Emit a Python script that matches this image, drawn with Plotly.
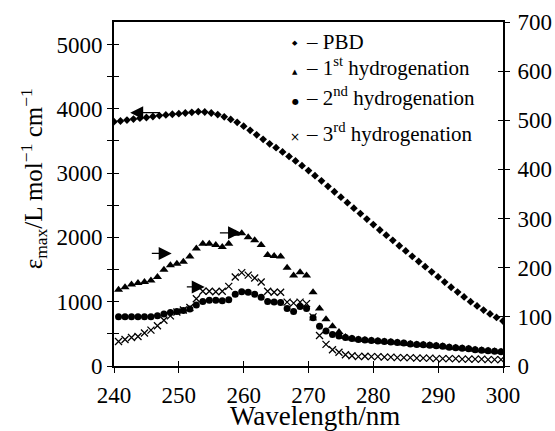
import numpy as np
import plotly.graph_objects as go

# ---- data ----
wl_pbd = list(range(240, 301))  # nm
pbd = [3800, 3810, 3825, 3840, 3855, 3865, 3880, 3895, 3905, 3915,
       3925, 3935, 3945, 3955, 3950, 3935, 3910, 3875, 3835, 3790,
       3730, 3665, 3595, 3525, 3455, 3395, 3330, 3260, 3190, 3115,
       3040, 2960, 2880, 2795, 2710, 2625, 2540, 2455, 2370, 2285,
       2200, 2115, 2035, 1955, 1870, 1790, 1705, 1625, 1545, 1465,
       1385, 1305, 1225, 1150, 1075, 1000, 935, 870, 810, 755, 700]

wl_h = [round(240.7 + i, 1) for i in range(60)]  # nm
hyd1 = [155, 160, 166, 169, 171, 174, 181, 196, 205, 208,
        212, 223, 239, 249, 249, 246, 242, 249, 269, 270,
        262, 256, 246, 226, 224, 223, 200, 184, 191, 184,
        150, 117, 95, 81, 69, 59, 56, 54, 53, 52,
        51, 50, 49, 48, 46, 45, 44, 43, 42, 41,
        40, 38, 37, 36, 35, 33, 32, 31, 30, 29]
hyd2 = [100, 100, 100, 100, 100, 100, 102, 106, 109, 111,
        113, 116, 124, 131, 134, 134, 133, 135, 146, 151,
        150, 146, 140, 131, 130, 129, 117, 111, 121, 117,
        98, 81, 71, 64, 61, 58, 56, 54, 53, 52,
        51, 50, 49, 48, 47, 45, 44, 43, 42, 41,
        40, 38, 37, 36, 35, 33, 32, 31, 30, 29]
hyd3 = [50, 54, 58, 60, 67, 73, 82, 93, 102, 110,
        114, 119, 137, 152, 152, 151, 152, 162, 181, 190,
        185, 179, 171, 152, 150, 150, 130, 128, 130, 127,
        100, 62, 44, 33, 28, 23, 21, 19, 20, 19,
        19, 18, 18, 17, 17, 17, 16, 16, 16, 15,
        15, 15, 15, 14, 14, 14, 14, 13, 13, 13]

x_ticks = [240, 250, 260, 270, 280, 290, 300]
yl_ticks = [0, 1000, 2000, 3000, 4000, 5000]
yr_ticks = [0, 100, 200, 300, 400, 500, 600, 700]

FONT = "Liberation Serif, DejaVu Serif, serif"
BLACK = "#000000"

fig = go.Figure()
fig.add_trace(go.Scatter(x=wl_pbd, y=pbd, mode="markers", yaxis="y",
                         marker=dict(symbol="diamond", size=6, color=BLACK),
                         showlegend=False))
fig.add_trace(go.Scatter(x=wl_h, y=hyd1, mode="markers", yaxis="y2",
                         marker=dict(symbol="triangle-up", size=8, color=BLACK),
                         showlegend=False))
fig.add_trace(go.Scatter(x=wl_h, y=hyd2, mode="markers", yaxis="y2",
                         marker=dict(symbol="circle", size=7, color=BLACK),
                         showlegend=False))
fig.add_trace(go.Scatter(x=wl_h, y=hyd3, mode="markers", yaxis="y2",
                         marker=dict(symbol="x-thin-open", size=7, color=BLACK,
                                     line=dict(color=BLACK, width=1.3)),
                         showlegend=False))

tickfont = dict(family=FONT, size=23, color=BLACK)
tickonly = dict(showgrid=False, zeroline=False, tickcolor=BLACK, tickwidth=1.4,
                ticklen=5, automargin=False)
common = dict(tickonly, linecolor=BLACK, linewidth=1.6)

fig.update_layout(
    template="none",
    width=555, height=431,
    margin=dict(l=114, r=52, t=22, b=65),
    paper_bgcolor="white", plot_bgcolor="white",
    font=dict(family=FONT, color=BLACK),
    xaxis=dict(range=[240, 300], tickvals=x_ticks, ticks="outside",
               showline=True, mirror=True, tickfont=tickfont, ticklabelstandoff=3,
               **common),
    xaxis2=dict(range=[240, 300], tickvals=x_ticks, ticks="inside", overlaying="x",
                anchor="y", showline=False, showticklabels=False, **tickonly),
    yaxis=dict(range=[0, 5350], tickvals=yl_ticks, ticks="outside", showline=True,
               tickfont=tickfont,
               minor=dict(dtick=500, tick0=0, ticks="outside", ticklen=5, tickwidth=1.4, tickcolor=BLACK),
               **common),
    yaxis3=dict(range=[0, 5350], tickvals=yl_ticks, ticks="inside", overlaying="y",
                anchor="x", side="left", showline=False, showticklabels=False,
                minor=dict(dtick=500, tick0=0, ticks="inside", ticklen=5, tickwidth=1.4, tickcolor=BLACK),
                **tickonly),
    yaxis2=dict(range=[0, 700], tickvals=yr_ticks, ticks="outside", overlaying="y",
                side="right", anchor="x", showline=True, tickfont=tickfont,
                ticklabelstandoff=3, **common),
    yaxis4=dict(range=[0, 700], tickvals=yr_ticks, ticks="inside", overlaying="y",
                side="right", anchor="x", showline=False, showticklabels=False,
                **tickonly),
)

# empty traces to register the tick-overlay axes
fig.add_trace(go.Scatter(x=[], y=[], xaxis="x2", yaxis="y3", showlegend=False))
fig.add_trace(go.Scatter(x=[], y=[], xaxis="x", yaxis="y4", showlegend=False))

# arrows indicating axis association
arrow_style = dict(showarrow=True, arrowhead=2, arrowsize=2.0, arrowwidth=1.3,
                   arrowcolor=BLACK, standoff=0, startstandoff=0, text="")
fig.add_annotation(x=242.5, y=3940, ax=247.3, ay=3940, xref="x", yref="y",
                   axref="x", ayref="y", **arrow_style)
fig.add_annotation(x=248.9, y=229, ax=245.6, ay=229, xref="x", yref="y2",
                   axref="x", ayref="y2", **arrow_style)
fig.add_annotation(x=259.6, y=271, ax=256.1, ay=271, xref="x", yref="y2",
                   axref="x", ayref="y2", **arrow_style)
fig.add_annotation(x=254.0, y=161, ax=251.0, ay=161, xref="x", yref="y2",
                   axref="x", ayref="y2", **arrow_style)

def px2paper_x(px):
    return (px - 114) / 389.0

def px2paper_y(py):
    return (365.7 - py) / 344.0

# axis titles
fig.add_annotation(x=px2paper_x(315), y=px2paper_y(416), xref="paper", yref="paper",
                   text="Wavelength/nm", showarrow=False, xanchor="center", yanchor="middle",
                   font=dict(family=FONT, size=27, color=BLACK))
fig.add_annotation(x=px2paper_x(34), y=px2paper_y(179), xref="paper", yref="paper",
                   text="ε<sub>max</sub>/L mol<sup>−1</sup> cm<sup>−1</sup>", textangle=-90,
                   showarrow=False, xanchor="center", yanchor="middle",
                   font=dict(family=FONT, size=25, color=BLACK))

# legend drawn as text
legend_rows = [
    ("◆", 7, "– PBD", 42.5, 42.0),
    ("▲", 7, "– 1<sup>st</sup> hydrogenation", 71.5, 66.0),
    ("●", 8, "– 2<sup>nd</sup> hydrogenation", 101.5, 96.0),
    ("×", 12, "– 3<sup>rd</sup> hydrogenation", 136.5, 132.0),
]
for glyph, gsize, label, gy, ty in legend_rows:
    fig.add_annotation(x=px2paper_x(295), y=px2paper_y(gy), xref="paper", yref="paper",
                       text=glyph, showarrow=False, xanchor="center", yanchor="middle",
                       font=dict(family="DejaVu Sans", size=gsize, color=BLACK))
    fig.add_annotation(x=px2paper_x(304), y=px2paper_y(ty), xref="paper", yref="paper",
                       text=label, showarrow=False, xanchor="left", yanchor="middle",
                       font=dict(family=FONT, size=21, color=BLACK))

fig.write_html("out.html", config={"displayModeBar": False},
               post_script="document.body.style.margin='0';document.body.style.padding='0';")
